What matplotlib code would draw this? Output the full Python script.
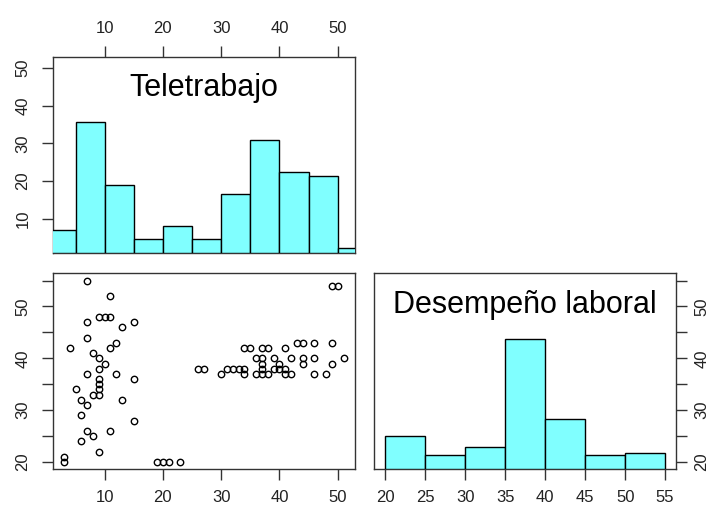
import matplotlib
matplotlib.use('Agg')
import matplotlib.pyplot as plt
import numpy as np

plt.rcParams['font.family'] = ['Liberation Sans', 'DejaVu Sans']

# ---------------- data ----------------
var_names = ['Teletrabajo', 'Desempeño laboral']

teletrabajo = [7, 11, 9, 10, 11, 7, 15, 13, 7, 12, 11, 4, 8, 9, 10, 9, 7, 12, 15, 9,
               9, 9, 9, 5, 8, 6, 13, 7, 6, 15, 7, 11, 8, 6, 9, 3, 3, 19, 20, 21, 23,
               26, 27, 31, 32, 33, 34, 37, 39, 40, 41,
               30, 34, 36, 37, 38, 41, 42, 46, 48,
               37, 40, 44, 49,
               36, 37, 39, 42, 44, 46, 51,
               34, 35, 37, 38, 41,
               43, 44, 46, 49,
               49, 50]
desempeno = [55, 52, 48, 48, 48, 47, 47, 46, 44, 43, 42, 42, 41, 40, 39, 38, 37, 37, 36, 36,
             35, 34, 33, 34, 33, 32, 32, 31, 29, 28, 26, 26, 25, 24, 22, 21, 20, 20, 20, 20, 20,
             38, 38, 38, 38, 38, 38, 38, 38, 38, 38,
             37, 37, 37, 37, 37, 37, 37, 37, 37,
             39, 39, 39, 39,
             40, 40, 40, 40, 40, 40, 40,
             42, 42, 42, 42, 42,
             43, 43, 43, 43,
             54, 54]

tele_breaks = [0, 5, 10, 15, 20, 25, 30, 35, 40, 45, 50, 55]
tele_counts = [5, 29, 15, 3, 6, 3, 13, 25, 18, 17, 1]
desem_breaks = [20, 25, 30, 35, 40, 45, 50, 55]
desem_counts = [12, 5, 8, 47, 18, 5, 6]

tele_ticks = [10, 20, 30, 40, 50]
desem_ticks_x = [20, 25, 30, 35, 40, 45, 50, 55]
desem_ticks_y = [20, 25, 30, 35, 40, 45, 50, 55]
desem_labels_y = ['20', '', '30', '', '40', '', '50', '']

# ---------------- style ----------------
FILL = '#80FFFF'
SPINE = '#333333'
TICKFS = 12
TITLEFS = 22


def rng(v):
    lo, hi = min(v), max(v)
    d = (hi - lo) * 0.04
    return lo - d, hi + d


xr_t = rng(teletrabajo)
xr_d = rng(desempeno)

fig = plt.figure(figsize=(7.16, 5.07), dpi=100)
fig.patch.set_facecolor('white')

L1, L2, W = 52.7 / 716, 374.3 / 716, 302 / 716
H = 196 / 507
BT, BB = (507 - 252.7) / 507, (507 - 469.3) / 507


def style(ax):
    for s in ax.spines.values():
        s.set_color(SPINE)
        s.set_linewidth(1.0)
    ax.tick_params(length=8, width=1.0, color=SPINE, labelsize=TICKFS,
                   labelcolor='#222222')


def hist_overlay(rect, xlim, breaks, counts, label):
    ov = fig.add_axes(rect)
    ov.set_xlim(*xlim)
    ov.set_ylim(0, 1.5)
    ov.axis('off')
    mx = max(counts)
    h = [c / mx for c in counts]
    ov.bar(breaks[:-1], h, width=np.diff(breaks), align='edge',
           color=FILL, edgecolor='black', linewidth=1.0, clip_on=True)
    ov.text(0.5, 0.84, label, transform=ov.transAxes, ha='center', va='center',
            fontsize=TITLEFS, color='black')
    return ov


# top-left: Teletrabajo histogram
rect_tl = [L1, BT, W, H]
ax_tl = fig.add_axes(rect_tl)
style(ax_tl)
ax_tl.set_xlim(*xr_t)
ax_tl.set_ylim(*xr_t)
ax_tl.xaxis.tick_top()
ax_tl.set_xticks(tele_ticks)
ax_tl.set_yticks(tele_ticks)
ax_tl.tick_params(axis='x', pad=7)
ax_tl.tick_params(axis='y', pad=8)
for lab in ax_tl.get_yticklabels():
    lab.set_rotation(90)
    lab.set_va('center')
hist_overlay(rect_tl, xr_t, tele_breaks, tele_counts, var_names[0])

# bottom-left: scatter
ax_bl = fig.add_axes([L1, BB, W, H])
style(ax_bl)
ax_bl.set_xlim(*xr_t)
ax_bl.set_ylim(*xr_d)
ax_bl.plot(teletrabajo, desempeno, linestyle='none', marker='o', markersize=4.6,
           markerfacecolor='none', markeredgecolor='black', markeredgewidth=1.0)
ax_bl.set_xticks(tele_ticks)
ax_bl.set_yticks(desem_ticks_y)
ax_bl.set_yticklabels(desem_labels_y)
ax_bl.tick_params(axis='x', pad=7)
ax_bl.tick_params(axis='y', pad=8)
for lab in ax_bl.get_yticklabels():
    lab.set_rotation(90)
    lab.set_va('center')

# bottom-right: Desempeño histogram
rect_br = [L2, BB, W, H]
ax_br = fig.add_axes(rect_br)
style(ax_br)
ax_br.set_xlim(*xr_d)
ax_br.set_ylim(*xr_d)
ax_br.yaxis.tick_right()
ax_br.set_xticks(desem_ticks_x)
ax_br.set_yticks(desem_ticks_y)
ax_br.set_yticklabels(desem_labels_y)
ax_br.tick_params(axis='x', pad=7)
ax_br.tick_params(axis='y', pad=5)
for lab in ax_br.get_yticklabels():
    lab.set_rotation(90)
    lab.set_va('center')
hist_overlay(rect_br, xr_d, desem_breaks, desem_counts, var_names[1])

fig.savefig('out.png', dpi=100, facecolor='white')
